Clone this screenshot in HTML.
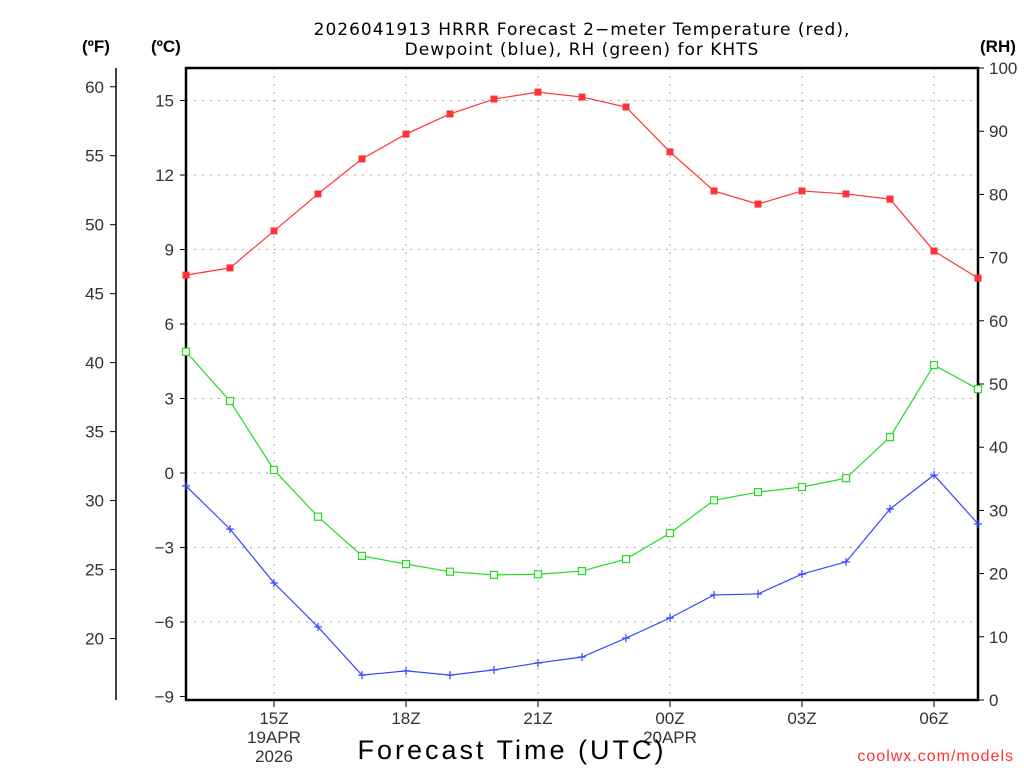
<!DOCTYPE html>
<html><head><meta charset="utf-8"><style>
body{margin:0;background:#fff;width:1024px;height:768px;overflow:hidden}
svg{display:block;font-family:"Liberation Sans","DejaVu Sans",sans-serif}
</style></head><body>
<svg id="c" width="1024" height="768"></svg>
<script>
const hours=["13Z","14Z","15Z","16Z","17Z","18Z","19Z","20Z","21Z","22Z","23Z","00Z","01Z","02Z","03Z","04Z","05Z","06Z","07Z"];
const tempC=[7.97,8.26,9.75,11.24,12.65,13.65,14.46,15.06,15.34,15.14,14.74,12.93,11.36,10.83,11.36,11.24,11.03,8.94,7.85];
const dewC=[-0.52,-2.26,-4.43,-6.2,-8.14,-7.97,-8.14,-7.93,-7.65,-7.41,-6.65,-5.84,-4.91,-4.87,-4.07,-3.58,-1.45,-0.08,-2.05];
const rh=[55.1,47.3,36.4,29.0,22.8,21.5,20.3,19.8,19.9,20.4,22.3,26.4,31.6,32.9,33.7,35.1,41.6,53.0,49.2];
const cTicks=[15,12,9,6,3,0,-3,-6,-9];
const fTicks=[60,55,50,45,40,35,30,25,20];
const rhTicks=[100,90,80,70,60,50,40,30,20,10,0];
const xLabelIdx=[2,5,8,11,14,17];

const L=186,R=978,T=68,B=700;
const X=i=>L+i*(R-L)/(hours.length-1);
const YC=c=>473-c*24.83;
const YF=f=>YC((f-32)/1.8);
const YR=r=>B-r*(B-T)/100;
const svg=document.getElementById('c');
const NS='http://www.w3.org/2000/svg';
function el(t,a,p){const e=document.createElementNS(NS,t);for(const k in a)e.setAttribute(k,a[k]);(p||svg).appendChild(e);return e;}
function txt(s,x,y,a){const e=el('text',Object.assign({x:x,y:y,'font-size':17,fill:'#000'},a));e.textContent=s;return e;}

const grid=el('g',{});


xLabelIdx.forEach(i=>el('line',{x1:X(i),x2:X(i),y1:T,y2:B,stroke:'#aaa','stroke-dasharray':'2,6'},grid));
cTicks.forEach(c=>{if(c>-9)el('line',{x1:L,x2:R,y1:YC(c),y2:YC(c),stroke:'#aaa','stroke-dasharray':'2,6'},grid);});

const fr=el('rect',{x:L,y:T,width:R-L,height:B-T,fill:'none',stroke:'#000','stroke-width':2.5});



cTicks.forEach(c=>{el('line',{x1:L-6,x2:L,y1:YC(c),y2:YC(c),stroke:'#000'});
 const t=txt(String(c).replace('-','−'),174,YC(c)+6,{'text-anchor':'end',fill:'#333'});
 
 });
el('line',{x1:116,x2:116,y1:T,y2:B,stroke:'#000','stroke-width':1.5});
fTicks.forEach(f=>{el('line',{x1:110,x2:116,y1:YF(f),y2:YF(f),stroke:'#000'});
 const t=txt(f,104,YF(f)+6,{'text-anchor':'end',fill:'#333'});
 
 });
rhTicks.forEach(r=>{el('line',{x1:R,x2:R+6,y1:YR(r),y2:YR(r),stroke:'#000'});
 const t=txt(r,989,YR(r)+6,{fill:'#333'});
 
 });
xLabelIdx.forEach(i=>{el('line',{x1:X(i),x2:X(i),y1:B,y2:B+7,stroke:'#000'});
 const t=txt(hours[i],X(i),724,{'text-anchor':'middle',fill:'#333'});
 
 });
txt('19APR',X(2),743,{'text-anchor':'middle',fill:'#333'});
txt('2026',X(2),762,{'text-anchor':'middle',fill:'#333'});
txt('20APR',X(11),743,{'text-anchor':'middle',fill:'#333'});

function series(vals,yf,color,name,marker){
 const g=el('g',{});
 
 
 el('polyline',{points:vals.map((v,i)=>X(i)+','+yf(v)).join(' '),fill:'none',stroke:color,'stroke-width':1.2},g);
 vals.forEach((v,i)=>{const x=X(i),y=yf(v);
  if(marker==='fill')el('rect',{x:x-3.5,y:y-3.5,width:7,height:7,fill:color},g);
  else if(marker==='open')el('rect',{x:x-3.5,y:y-3.5,width:7,height:7,fill:'#fff',stroke:color,'stroke-width':1.2},g);
  else {el('line',{x1:x-4,x2:x+4,y1:y,y2:y,stroke:color,'stroke-width':1.2},g);el('line',{x1:x,x2:x,y1:y-4,y2:y+4,stroke:color,'stroke-width':1.2},g);}
 });
}
series(rh,YR,'#22dd22','rh-series','open');
series(dewC,YC,'#3344ff','dewpoint-series','plus');
series(tempC,YC,'#ff3333','temperature-series','fill');

const t1=txt('2026041913 HRRR Forecast 2−meter Temperature (red),',582,35,{'text-anchor':'middle','font-family':'DejaVu Sans','font-size':17,'letter-spacing':'1'});


txt('Dewpoint (blue), RH (green) for KHTS',582,55,{'text-anchor':'middle','font-family':'DejaVu Sans','font-size':17,'letter-spacing':'1'});
txt('(ºF)',82,52,{'font-weight':'bold','font-size':17});
txt('(ºC)',151,52,{'font-weight':'bold','font-size':17});
txt('(RH)',980,52,{'font-weight':'bold','font-size':17});
const xt=txt('Forecast Time (UTC)',512,759,{'text-anchor':'middle','font-size':27,'letter-spacing':'3'});


const wm=txt('coolwx.com/models',1014,761,{'text-anchor':'end',fill:'#ff3333','font-size':16,'letter-spacing':'1'});


</script>
</body></html>
